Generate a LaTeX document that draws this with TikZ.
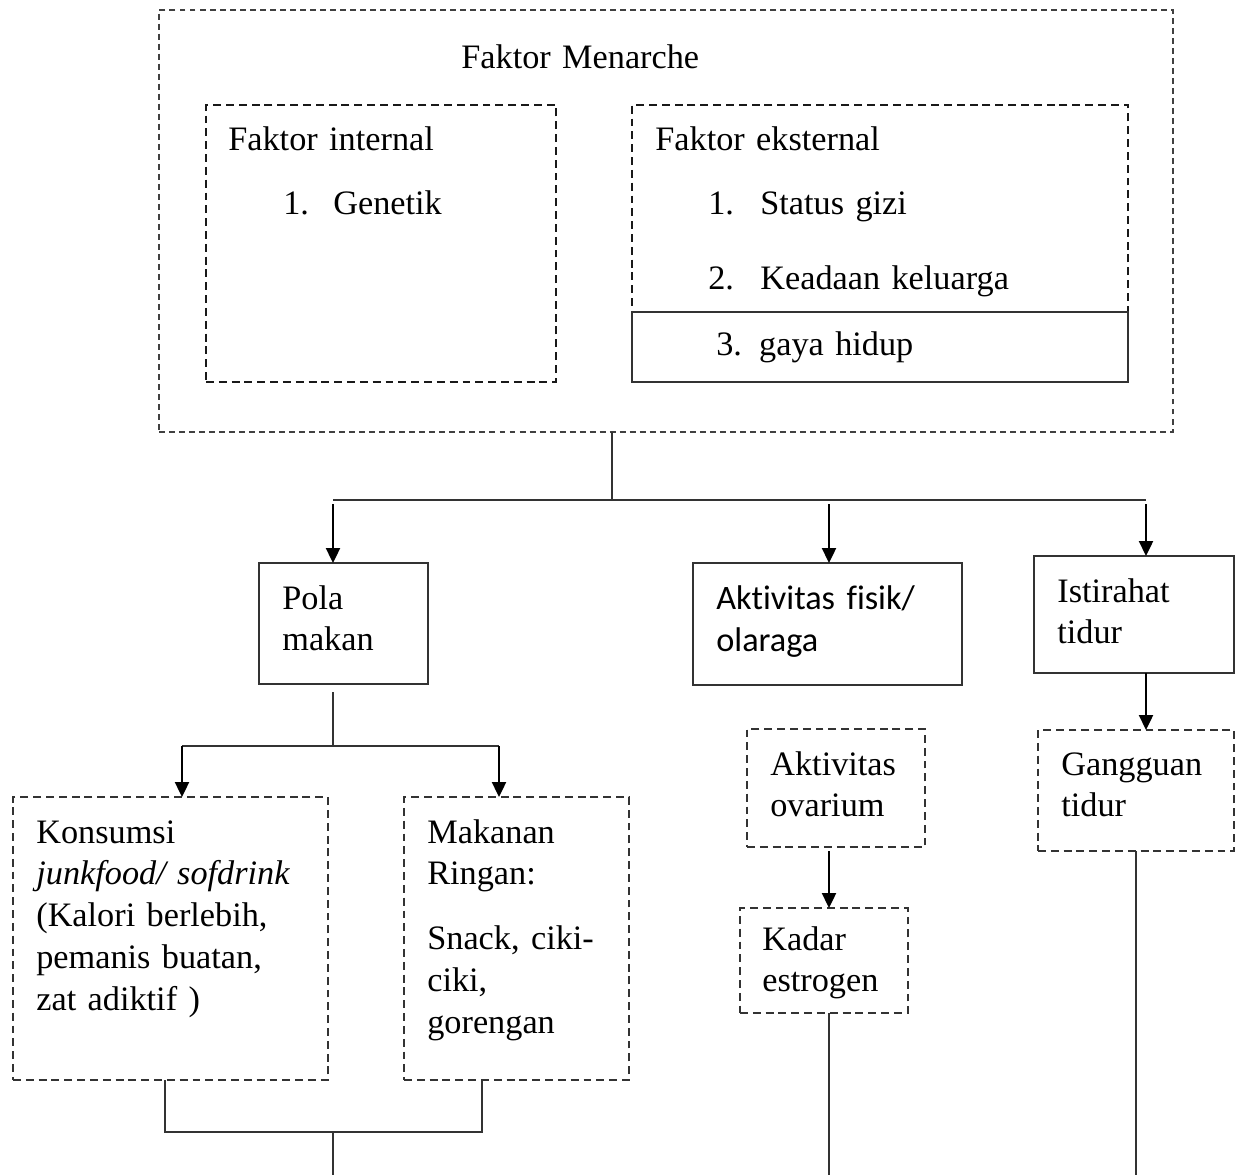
\documentclass[tikz,border=0pt]{standalone}
\usepackage{fontspec}
\setmainfont{Liberation Serif}
\newfontfamily\calibri[Ligatures=NoCommon]{Carlito}
\usepackage{tikz}
\usetikzlibrary{positioning}
\usetikzlibrary{arrows.meta}

\begin{document}
\begin{tikzpicture}[x=0.02cm,y=-0.02cm,>={Triangle[length=8.5pt,width=8pt]},
    kotak/.style 2 args={rectangle,draw,anchor=north west,inner sep=0pt,outer sep=0pt,
      minimum width=#1*0.02cm,minimum height=#2*0.02cm},
    garis/.style={line width=1.2pt,color=black!80},
    luar/.style={dash pattern=on 3.4pt off 2.3pt,line width=1pt,color=black!75},
    putus/.style={dash pattern=on 4.5pt off 2.8pt,line width=1.5pt,color=black!90},
    putustipis/.style={dash pattern=on 4.5pt off 2.8pt,line width=1pt,color=black!80},
    teks/.style={anchor=base west,inner sep=0pt,align=left,text width=8cm,
      font=\fontsize{19.5}{23.8}\selectfont},
    panah/.style={->,line width=1.1pt,color=black}]
    	\useasboundingbox (0,0) rectangle (1236,1175);
    	
    	% kotak faktor menarche
    	\node[kotak={1014}{422},luar] (menarche) at (159,10) {};
    	\node[kotak={350}{277},putus] (internal) at (206,105) {};
    	\node[kotak={496}{277},putus] (eksternal) at (632,105) {};
    	\node[kotak={496}{70},garis,fill=white] (gaya) at (632,312) {};
    	
    	\node[teks] (tmenarche) at (461,69) {Faktor Menarche};
    	\node[teks] (tinternal) at (228,151) {Faktor internal};
    	\node[teks] (tno1) at (283,215) {1.};
    	\node[teks] (tgenetik) at (333,215) {Genetik};
    	\node[teks] (teksternal) at (655,151) {Faktor eksternal};
    	\foreach \i/\y/\name in {1/215/Status gizi,2/290/Keadaan keluarga}{
    		\node[teks] (eno\i) at (708,\y) {\i.};
    		\node[teks] (eks\i) at (760,\y) {\name};
    	}
    	\node[teks] (tgaya) at (716,356) {3. gaya hidup};
    	
    	% kotak bawah
    	\node[kotak={169}{121},garis] (pola) at (259,563) {};
    	\node[kotak={269}{122},garis] (fisik) at (693,563) {};
    	\node[kotak={200}{117},garis] (istirahat) at (1034,556) {};
    	\node[kotak={315}{283},putustipis] (konsumsi) at (13,797) {};
    	\node[kotak={225}{283},putustipis] (ringan) at (404,797) {};
    	\node[kotak={178}{118},putustipis] (ovarium) at (747,729) {};
    	\node[kotak={168}{105},putustipis] (estrogen) at (740,908) {};
    	\node[kotak={196}{121},putustipis] (gangguan) at (1038,730) {};
    	
    	\node[teks] (tpola) at (282,609) {Pola\\makan};
    	\node[teks,font=\calibri\fontsize{19.5}{24}\selectfont] (tfisik) at (716,609) {Aktivitas fisik/\\olaraga};
    	\node[teks] (tistirahat) at (1057,602) {Istirahat\\tidur};
    	\node[teks] (tkonsumsi) at (36,843) {Konsumsi\\\textit{junkfood/ sofdrink}\\(Kalori berlebih,\\pemanis buatan,\\zat adiktif )};
    	\node[teks] (tringan) at (427,843) {Makanan\\Ringan:\\[13pt]Snack, ciki-\\ciki,\\gorengan};
    	\node[teks] (tovarium) at (770,775) {Aktivitas\\ovarium};
    	\node[teks] (testrogen) at (762,950) {Kadar\\estrogen};
    	\node[teks] (tgangguan) at (1061,775) {Gangguan\\tidur};
    	
    	% garis penghubung
    	\coordinate (b0) at (612,500);
    	\coordinate (b1) at (333,500);
    	\coordinate (b2) at (829,500);
    	\coordinate (b3) at (1146,500);
    	\draw[garis] (b0 |- menarche.south) -- (b0);
    	\draw[garis] (b1) -- (b3);
    	\foreach \b/\n in {b1/pola,b2/fisik,b3/istirahat}{
    		\draw[panah] ([yshift=-0.08cm]\b) -- (\b |- \n.north);}
    	
    	\coordinate (c0) at (333,746);
    	\coordinate (c1) at (182,746);
    	\coordinate (c2) at (499,746);
    	\draw[garis] ([yshift=-0.16cm]c0 |- pola.south) -- (c0);
    	\draw[garis] (c1) -- (c2);
    	\draw[panah] (c1) -- (c1 |- konsumsi.north);
    	\draw[panah] (c2) -- (c2 |- ringan.north);
    	
    	\coordinate (m0) at (333,1175);
    	\coordinate (m1) at (165,1132);
    	\coordinate (m2) at (482,1132);
    	\draw[garis] (m1 |- konsumsi.south) -- (m1) -- (m2) -- (m2 |- ringan.south);
    	\draw[garis] (m0 |- m1) -- (m0);
    	
    	\coordinate (d1) at (829,1175);
    	\draw[panah] ([yshift=-0.08cm]d1 |- ovarium.south) -- (d1 |- estrogen.north);
    	\draw[garis] (d1 |- estrogen.south) -- (d1);
    	
    	\coordinate (g1) at (1136,1175);
    	\draw[panah] (b3 |- istirahat.south) -- (b3 |- gangguan.north);
    	\draw[garis] (g1 |- gangguan.south) -- (g1);
    \end{tikzpicture}
\end{document}
